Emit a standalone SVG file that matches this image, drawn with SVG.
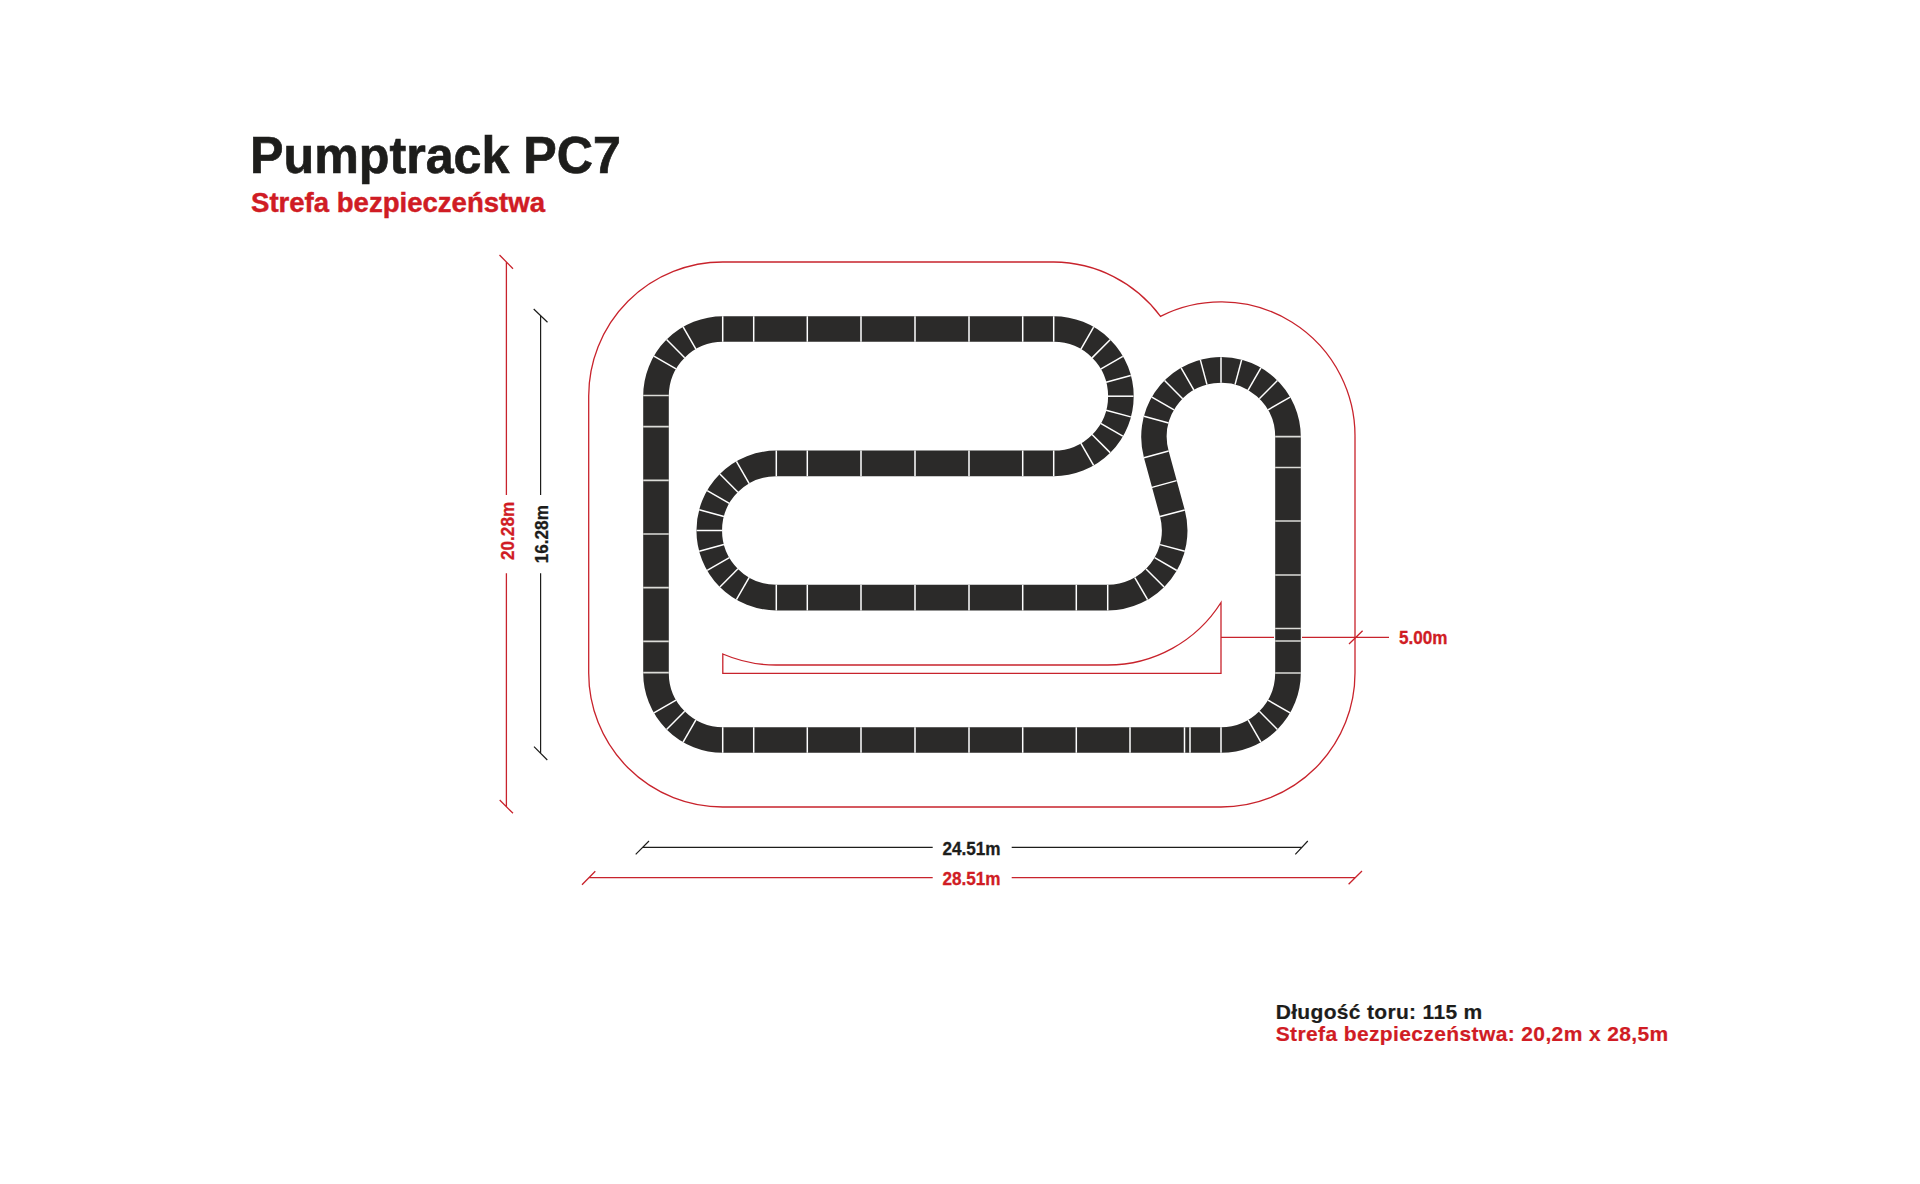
<svg xmlns="http://www.w3.org/2000/svg" width="1920" height="1184" viewBox="0 0 1920 1184">
<style>
text{font-family:"Liberation Sans",Arial,sans-serif;font-weight:700}
.k{fill:#1d1d1b;stroke:#1d1d1b}
.r{fill:#d01c24;stroke:#d01c24}
.t1{stroke-width:.7}
.t2{stroke-width:.45}
.t3{stroke-width:.3}
.t4{stroke-width:.2}
.track{fill:none;stroke:#2b2a29;stroke-width:25.6}
.zone{fill:none;stroke:#c8232c;stroke-width:1.3}
.j{fill:none;stroke:#fff;stroke-width:1.5}
.g{fill:none;stroke:#dcdcd8;stroke-width:1.7}
.dk{stroke:#1d1d1b;stroke-width:1.2;fill:none}
.dr{stroke:#c8232c;stroke-width:1.3;fill:none}
</style>
<defs><line id="s" class="j" x1="0" y1="-79.8" x2="0" y2="-54.2"/></defs>
<rect width="1920" height="1184" fill="#fff"/>
<g id="title">
<text class="k t1" x="250" y="172.5" font-size="52.5" textLength="371" lengthAdjust="spacingAndGlyphs">Pumptrack PC7</text>
<text class="r t2" x="251" y="211.5" font-size="27" textLength="294" lengthAdjust="spacingAndGlyphs">Strefa bezpieczeństwa</text>
</g>
<g id="safety-zone">
<path class="zone" d="M722.7 262H1053.7A134 134 0 0 1 1160.5 316.3A134 134 0 0 1 1355 437V673A134 134 0 0 1 1221 807H722.7A134 134 0 0 1 588.7 673V396A134 134 0 0 1 722.7 262Z"/>
</g>
<g id="track">
<path class="track" d="M723 329H1053.7A67.2 67.2 0 0 1 1053.7 463.4H776.3A67.1 67.1 0 0 0 776.3 597.6H1107.7A67 67 0 0 0 1172.4 513.3L1156.3 454.3A67 67 0 1 1 1288 437V673A67 67 0 0 1 1221 740H723A67 67 0 0 1 656 673V396A67 67 0 0 1 723 329Z"/>
<g id="joints-straight">
<path class="j" d="M722.7 316.2V341.8M753.7 316.2V341.8M807.3 316.2V341.8M861 316.2V341.8M915 316.2V341.8M969 316.2V341.8M1022.7 316.2V341.8M1053.7 316.2V341.8
M776.3 450.6V476.2M807.3 450.6V476.2M861 450.6V476.2M915 450.6V476.2M969 450.6V476.2M1022.7 450.6V476.2M1053.7 450.6V476.2
M776.3 584.8V610.4M807.3 584.8V610.4M861 584.8V610.4M915 584.8V610.4M969 584.8V610.4M1022.7 584.8V610.4M1076.3 584.8V610.4M1107.7 584.8V610.4
M722.7 727.2V752.8M753.7 727.2V752.8M807.3 727.2V752.8M861 727.2V752.8M915 727.2V752.8M969 727.2V752.8M1022.7 727.2V752.8M1076.3 727.2V752.8M1130 727.2V752.8M1184.5 727.2V752.8M1190 727.2V752.8M1221 727.2V752.8
M1152 487.4L1176.6 480.6"/>
<path class="g" d="M643.2 395.5H668.8M643.2 426.7H668.8M643.2 480.4H668.8M643.2 534H668.8M643.2 587.7H668.8M643.2 641.4H668.8M643.2 672.7H668.8
M1275.2 436.7H1300.8M1275.2 467.5H1300.8M1275.2 521H1300.8M1275.2 575H1300.8M1275.2 628.5H1300.8M1275.2 641H1300.8M1275.2 673H1300.8"/>
</g>
<g transform="translate(723,396)"><use href="#s" transform="rotate(-30)"/><use href="#s" transform="rotate(-45)"/><use href="#s" transform="rotate(-60)"/></g>
<g transform="translate(723,673)"><use href="#s" transform="rotate(210)"/><use href="#s" transform="rotate(225)"/><use href="#s" transform="rotate(240)"/></g>
<g transform="translate(1221,673)"><use href="#s" transform="rotate(150)"/><use href="#s" transform="rotate(135)"/><use href="#s" transform="rotate(120)"/></g>
<g transform="translate(1221,437)"><use href="#s" transform="rotate(60)"/><use href="#s" transform="rotate(45)"/><use href="#s" transform="rotate(30)"/><use href="#s" transform="rotate(15)"/><use href="#s"/><use href="#s" transform="rotate(-15)"/><use href="#s" transform="rotate(-30)"/><use href="#s" transform="rotate(-45)"/><use href="#s" transform="rotate(-60)"/><use href="#s" transform="rotate(-75)"/><use href="#s" transform="rotate(-105)"/></g>
<g transform="translate(1053.7,396.2)"><use href="#s" transform="rotate(30)"/><use href="#s" transform="rotate(45)"/><use href="#s" transform="rotate(60)"/><use href="#s" transform="rotate(75)"/><use href="#s" transform="rotate(90)"/><use href="#s" transform="rotate(105)"/><use href="#s" transform="rotate(120)"/><use href="#s" transform="rotate(135)"/><use href="#s" transform="rotate(150)"/></g>
<g transform="translate(776.3,530.5)"><use href="#s" transform="rotate(-30)"/><use href="#s" transform="rotate(-45)"/><use href="#s" transform="rotate(-60)"/><use href="#s" transform="rotate(-75)"/><use href="#s" transform="rotate(-90)"/><use href="#s" transform="rotate(-105)"/><use href="#s" transform="rotate(-120)"/><use href="#s" transform="rotate(-135)"/><use href="#s" transform="rotate(-150)"/></g>
<g transform="translate(1107.7,530.6)"><use href="#s" transform="rotate(75)"/><use href="#s" transform="rotate(105)"/><use href="#s" transform="rotate(120)"/><use href="#s" transform="rotate(135)"/><use href="#s" transform="rotate(150)"/></g>
</g>
<g id="connectors">
<path class="zone" d="M1221 602.5A134 134 0 0 1 1107.7 665H776.3A134 134 0 0 1 722.8 654V673.3H1221Z"/>
<path class="dr" d="M1221 637.3H1274M1302 637.3H1389M1349 644L1362.6 630.7"/>
<path class="dr" d="M506.4 261.8V495M506.4 573.3V806.6M499.5 255L513 268.7M499.7 800L513 813.3"/>
<path class="dk" d="M540.6 315.6V495M540.6 573.3V753.4M533.7 309L547.5 322.3M534 746.7L547.3 760"/>
<path class="dk" d="M642.3 847.3H932.7M1011.7 847.3H1301.5M635.7 854.3L649 841M1295.3 854.3L1307.8 841"/>
<path class="dr" d="M588.7 877.7H932.7M1011.7 877.7H1355M582 884.7L595.3 871.3M1348.6 884.3L1362 871"/>
</g>
<g id="labels">
<text class="r t3" x="1399" y="644" font-size="17.5" textLength="48.5" lengthAdjust="spacingAndGlyphs">5.00m</text>
<text class="k t3" x="942.4" y="854.7" font-size="17.5" textLength="58.2" lengthAdjust="spacingAndGlyphs">24.51m</text>
<text class="r t3" x="942.4" y="885" font-size="17.5" textLength="58.2" lengthAdjust="spacingAndGlyphs">28.51m</text>
<text class="r t3" transform="translate(514.3,560) rotate(-90)" font-size="17.5" textLength="58.2" lengthAdjust="spacingAndGlyphs">20.28m</text>
<text class="k t3" transform="translate(548.3,563.3) rotate(-90)" font-size="17.5" textLength="58.2" lengthAdjust="spacingAndGlyphs">16.28m</text>
</g>
<g id="notes">
<text class="k t4" x="1275.7" y="1019.3" font-size="21" textLength="206.6" lengthAdjust="spacing">Długość toru: 115 m</text>
<text class="r t4" x="1275.7" y="1040.7" font-size="21" textLength="392.6" lengthAdjust="spacing">Strefa bezpieczeństwa: 20,2m x 28,5m</text>
</g>
</svg>
